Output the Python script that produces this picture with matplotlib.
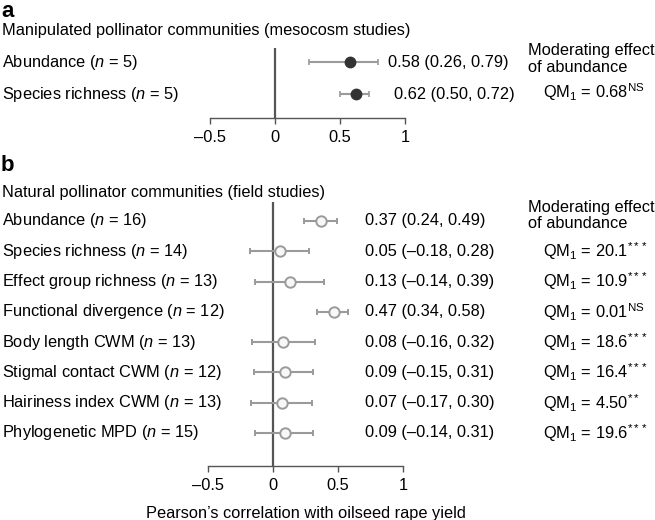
import matplotlib
matplotlib.use("Agg")
import matplotlib.pyplot as plt
import matplotlib.transforms as mtrans

plt.rcParams['font.family'] = ['Liberation Sans', 'DejaVu Sans']
plt.rcParams['mathtext.fontset'] = 'custom'
plt.rcParams['mathtext.rm'] = 'Liberation Sans'
plt.rcParams['mathtext.it'] = 'Liberation Sans:italic'
plt.rcParams['mathtext.bf'] = 'Liberation Sans:bold'

# panel a: mesocosm studies
meso_names = ["Abundance", "Species richness"]
meso_n = [5, 5]
meso_r = [0.58, 0.62]
meso_lo = [0.26, 0.50]
meso_hi = [0.79, 0.72]
meso_qm = "0.68"
meso_sig = "NS"

# panel b: field studies
field_names = ["Abundance", "Species richness", "Effect group richness",
               "Functional divergence", "Body length CWM", "Stigmal contact CWM",
               "Hairiness index CWM", "Phylogenetic MPD"]
field_n = [16, 14, 13, 12, 13, 12, 13, 15]
field_r = [0.37, 0.05, 0.13, 0.47, 0.08, 0.09, 0.07, 0.09]
field_lo = [0.24, -0.18, -0.14, 0.34, -0.16, -0.15, -0.17, -0.14]
field_hi = [0.49, 0.28, 0.39, 0.58, 0.32, 0.31, 0.30, 0.31]
field_qm = [None, "20.1", "10.9", "0.01", "18.6", "16.4", "4.50", "19.6"]
field_sig = [None, "***", "***", "NS", "***", "***", "**", "***"]

W, H = 655, 520
fig = plt.figure(figsize=(W / 100, H / 100), dpi=100)
FS = 11.8
GREY = "#9a9a9a"
DARK = "#555555"


def fmt(v):
    s = "%.2f" % v
    return s.replace("-", "\u2013")


def px_axes(x0, x1, ytop, ybot):
    return fig.add_axes([x0 / W, 1 - ybot / H, (x1 - x0) / W, (ybot - ytop) / H])


def style(ax, ylim):
    ax.set_xlim(-0.5, 1)
    ax.set_ylim(*ylim)
    for s in ["top", "right", "left"]:
        ax.spines[s].set_visible(False)
    ax.spines["bottom"].set_color(DARK)
    ax.spines["bottom"].set_linewidth(1.0)
    ax.set_yticks([])
    ax.set_xticks([-0.5, 0, 0.5, 1])
    ax.set_xticklabels(["\u20130.5", "0", "0.5", "1"], fontsize=FS)
    ax.tick_params(axis="x", direction="out", length=4, width=1.0,
                   color=DARK, pad=5)
    ax.axvline(0, color=DARK, lw=1.6, zorder=1)
    ax.patch.set_alpha(0)


def qm_text(qm, sig):
    if sig == "NS":
        return r"QM$_1$ = " + qm + r"$^{\mathrm{NS}}$"
    return r"QM$_1$ = " + qm + "$^{" + sig + "}$"


# ---- panel a ----
ax1 = px_axes(210, 405, 48, 118)
style(ax1, (1.75, -0.4375))
ya = list(range(len(meso_names)))
ax1.errorbar(meso_r, ya,
             xerr=[[r - l for r, l in zip(meso_r, meso_lo)],
                   [h - r for r, h in zip(meso_r, meso_hi)]],
             fmt="o", color="#333333", ms=7.5, ecolor=GREY, elinewidth=1.5,
             capsize=2.5, capthick=1.2, zorder=3)
tr1 = mtrans.blended_transform_factory(fig.transFigure, ax1.transData)
for i, (nm, n) in enumerate(zip(meso_names, meso_n)):
    fig.text(2 / W, i, nm + " ($n$ = %d)" % n, transform=tr1,
             fontsize=FS, va="center", ha="left")
ax1.text(388 / W, 0, "%s (%s, %s)" % (fmt(meso_r[0]), fmt(meso_lo[0]), fmt(meso_hi[0])),
         transform=tr1, fontsize=FS, va="center")
ax1.text(394 / W, 1, "%s (%s, %s)" % (fmt(meso_r[1]), fmt(meso_lo[1]), fmt(meso_hi[1])),
         transform=tr1, fontsize=FS, va="center")
ax1.text(528 / W, -0.1, "Moderating effect\nof abundance", transform=tr1,
         fontsize=FS, va="center", linespacing=1.15)
ax1.text(543 / W, 0.95, qm_text(meso_qm, meso_sig), transform=tr1,
         fontsize=FS, va="center")

fig.text(1 / W, 1 - 17 / H, "a", fontsize=16, fontweight="bold", va="baseline")
fig.text(2 / W, 1 - 31 / H, "Manipulated pollinator communities (mesocosm studies)",
         fontsize=FS, va="center")

# ---- panel b ----
ax2 = px_axes(208, 403, 202, 466)
style(ax2, (8.09, -0.627))
yb = list(range(len(field_names)))
ax2.errorbar(field_r, yb,
             xerr=[[r - l for r, l in zip(field_r, field_lo)],
                   [h - r for r, h in zip(field_r, field_hi)]],
             fmt="o", mfc="#f7f7f7", mec=GREY, mew=1.4, ms=7.5, ecolor=GREY,
             elinewidth=1.5, capsize=2.5, capthick=1.2, zorder=3)
tr2 = mtrans.blended_transform_factory(fig.transFigure, ax2.transData)
for i in yb:
    fig.text(2 / W, i, field_names[i] + " ($n$ = %d)" % field_n[i],
             transform=tr2, fontsize=FS, va="center", ha="left")
    ax2.text(365 / W, i, "%s (%s, %s)" % (fmt(field_r[i]), fmt(field_lo[i]), fmt(field_hi[i])),
             transform=tr2, fontsize=FS, va="center")
    if field_qm[i] is not None:
        ax2.text(543 / W, i, qm_text(field_qm[i], field_sig[i]), transform=tr2,
                 fontsize=FS, va="center")
ax2.text(528 / W, -0.17, "Moderating effect\nof abundance", transform=tr2,
         fontsize=FS, va="center", linespacing=1.1)
ax2.set_xlabel("Pearson\u2019s correlation with oilseed rape yield", fontsize=FS,
               labelpad=9)

fig.text(1 / W, 1 - 171 / H, "b", fontsize=16, fontweight="bold", va="baseline")
fig.text(2 / W, 1 - 192 / H, "Natural pollinator communities (field studies)",
         fontsize=FS, va="center")

fig.savefig("out.png", dpi=100)
